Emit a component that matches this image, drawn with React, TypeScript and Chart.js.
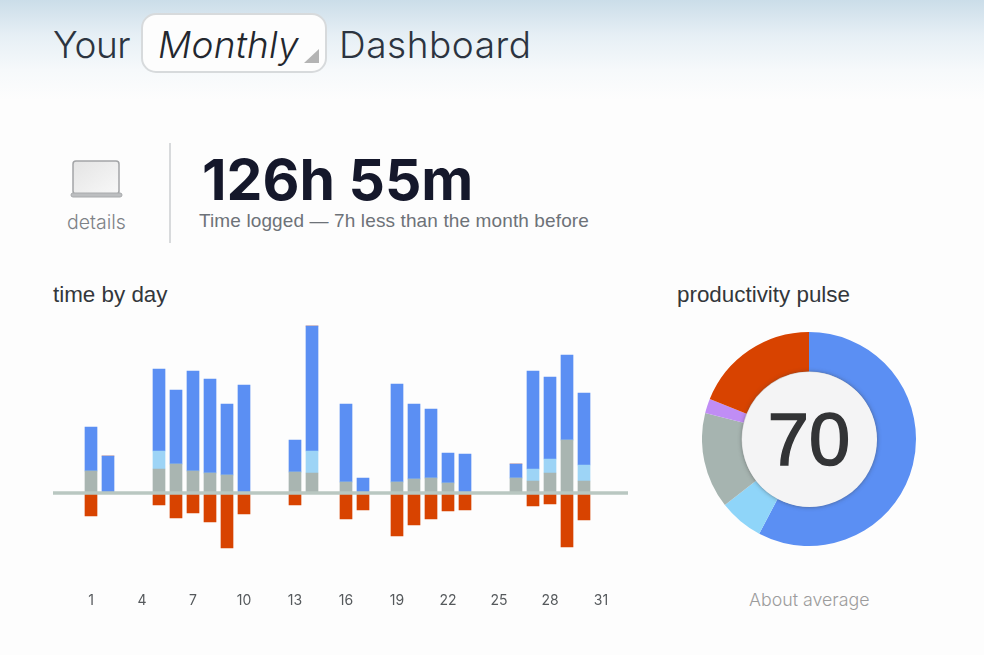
import React, { useEffect, useRef } from "react";
import { Chart, registerables } from "chart.js";

Chart.register(...registerables);

// Minutes logged per day, by productivity band
const days = Array.from({ length: 31 }, (_, i) => String(i + 1));
const neutralMinutes = [88, 0, 0, 0, 96, 116, 88, 80, 72, 0, 0, 0, 84, 80, 0, 44, 0, 0, 44, 56, 60, 40, 0, 0, 0, 60, 48, 80, 212, 48, 0];
const productiveMinutes = [0, 0, 0, 0, 72, 0, 0, 0, 0, 0, 0, 0, 0, 88, 0, 0, 0, 0, 0, 0, 0, 0, 0, 0, 0, 0, 48, 56, 0, 64, 0];
const veryProductiveMinutes = [176, 148, 0, 0, 328, 296, 400, 376, 284, 432, 0, 0, 128, 500, 0, 312, 60, 0, 392, 300, 276, 120, 156, 0, 0, 56, 392, 328, 340, 288, 0];
const distractingMinutes = [-92, 0, 0, 0, -48, -100, -80, -116, -220, -84, 0, 0, -48, 0, 0, -104, -68, 0, -172, -128, -104, -72, -68, 0, 0, 0, -52, -44, -216, -108, 0];

const pulseBands = ["Very productive", "Productive", "Neutral", "Distracting", "Very distracting"];
const pulseShares = [57.7, 6.7, 14.5, 2.2, 18.9];

const BLUE = "#5b8ff3";
const SKY = "#9dd4f6";
const GREY = "#a9b5b1";
const PURPLE = "#c08df5";
const RED = "#d84300";

const baselinePlugin = {
  id: "baseline",
  afterDatasetsDraw(chart: any) {
    const { ctx, scales } = chart;
    const y = scales.y.getPixelForValue(0);
    ctx.save();
    ctx.strokeStyle = "#b9c7c1";
    ctx.lineWidth = 3.5;
    ctx.beginPath();
    ctx.moveTo(0, y);
    ctx.lineTo(chart.width, y);
    ctx.stroke();
    ctx.restore();
  },
};

const abs = (left: number, top: number, extra: React.CSSProperties = {}): React.CSSProperties => ({
  position: "absolute",
  left,
  top,
  whiteSpace: "nowrap",
  ...extra,
});

export default function App() {
  const barRef = useRef<HTMLCanvasElement>(null);
  const pieRef = useRef<HTMLCanvasElement>(null);

  useEffect(() => {
    const bar = new Chart(barRef.current!, {
      type: "bar",
      data: {
        labels: days,
        datasets: [
          { label: "Neutral", data: neutralMinutes, backgroundColor: GREY },
          { label: "Productive", data: productiveMinutes, backgroundColor: SKY },
          { label: "Very productive", data: veryProductiveMinutes, backgroundColor: BLUE },
          { label: "Distracting", data: distractingMinutes, backgroundColor: RED },
        ],
      },
      options: {
        animation: false,
        responsive: false,
        events: [],
        layout: { padding: { left: 29.5, right: 18.5, top: 0, bottom: 0 } },
        plugins: { legend: { display: false }, tooltip: { enabled: false } },
        datasets: { bar: { barThickness: 12 } },
        scales: {
          x: {
            stacked: true,
            grid: { display: false },
            border: { display: false },
            afterFit: (scale: any) => {
              scale.height = 42;
            },
            ticks: {
              autoSkip: false,
              maxRotation: 0,
              padding: 16,
              color: "#55595c",
              font: { family: "Inter", size: 14 },
              callback: (_v: any, i: number) => (i % 3 === 0 ? days[i] : ""),
            },
          },
          y: { stacked: true, display: false, min: -300, max: 700 },
        },
      } as any,
      plugins: [baselinePlugin],
    });

    const pie = new Chart(pieRef.current!, {
      type: "doughnut",
      data: {
        labels: pulseBands,
        datasets: [
          {
            data: pulseShares,
            backgroundColor: [BLUE, "#8fd5f9", "#a6b4b0", PURPLE, RED],
            borderWidth: 0,
          },
        ],
      },
      options: {
        animation: false,
        responsive: false,
        events: [],
        cutout: "63%",
        plugins: { legend: { display: false }, tooltip: { enabled: false } },
      } as any,
    });

    return () => {
      bar.destroy();
      pie.destroy();
    };
  }, []);

  const heading: React.CSSProperties = { fontFamily: "Inter", fontSize: 37, fontWeight: 300, color: "#2c3440", lineHeight: "46px" };

  return (
    <div
      style={{
        position: "absolute",
        left: 0,
        top: 0,
        width: 984,
        height: 655,
        overflow: "hidden",
        background: "linear-gradient(to bottom, #cbdde9 0px, #e6eff5 35px, #f6f9fb 70px, #fdfdfd 100px, #fdfdfd 655px)",
        fontFamily: "Inter, sans-serif",
      }}
    >
      <div style={abs(53, 22, { ...heading, letterSpacing: -0.4 })}>Your</div>
      <div
        style={abs(141, 13, {
          width: 186,
          height: 60,
          boxSizing: "border-box",
          background: "#fdfdfd",
          border: "2px solid #d7dadc",
          borderRadius: 15,
        })}
      />
      <div style={abs(158, 22, { ...heading, fontStyle: "italic", color: "#23272e", letterSpacing: 0.2 })}>Monthly</div>
      <div
        style={abs(304, 49, {
          width: 15,
          height: 14,
          background: "#b4b4b4",
          clipPath: "polygon(100% 0, 100% 100%, 0 100%)",
        })}
      />
      <div style={abs(339, 22, { ...heading, letterSpacing: 0.55 })}>Dashboard</div>

      <svg style={abs(70, 159)} width="53" height="40" viewBox="0 0 53 40">
        <defs>
          <linearGradient id="screen" x1="0" y1="0" x2="1" y2="1">
            <stop offset="0" stopColor="#e4e4e4" />
            <stop offset="1" stopColor="#f8f8f8" />
          </linearGradient>
        </defs>
        <rect x="3" y="2" width="46" height="33" rx="3" fill="url(#screen)" stroke="#a2a4a6" strokeWidth="1.5" />
        <rect x="1" y="34" width="51" height="4" rx="2" fill="#bcbec0" stroke="#a8aaac" />
      </svg>
      <div style={abs(67, 211, { fontSize: 19.5, fontWeight: 300, color: "#7d8287", lineHeight: "22px" })}>details</div>
      <div style={abs(169, 143, { width: 1.5, height: 100, background: "#d8dadc" })} />
      <div style={abs(202, 146, { fontSize: 57, fontWeight: 700, color: "#15182b", lineHeight: "68px" })}>126h 55m</div>
      <div style={abs(199, 210, { fontSize: 19, letterSpacing: 0.12, fontFamily: "'Liberation Sans'", color: "#6d7278", lineHeight: "22px" })}>
        Time logged — 7h less than the month before
      </div>

      <div style={abs(53, 284, { fontSize: 22.4, fontFamily: "'Liberation Sans'", color: "#33373b", lineHeight: "22px" })}>time by day</div>
      <div style={abs(677, 284, { fontSize: 22.4, fontFamily: "'Liberation Sans'", color: "#33373b", lineHeight: "22px" })}>productivity pulse</div>

      <canvas ref={barRef} width={575} height={292} style={abs(53, 318, { width: 575, height: 292, display: "block" })} />
      <canvas ref={pieRef} width={214} height={214} style={abs(702, 332, { width: 214, height: 214, display: "block" })} />

      <div
        style={abs(741.5, 371.5, {
          width: 135,
          height: 135,
          borderRadius: "50%",
          background: "#f4f4f5",
          boxShadow: "0 0 4px rgba(60,60,60,0.55)",
          display: "flex",
          alignItems: "center",
          justifyContent: "center",
          fontFamily: "'Liberation Sans'",
          fontSize: 74,
          color: "#333436",
          WebkitTextStroke: "1.6px #333436",
        })}
      >
        70
      </div>
      <div style={abs(749, 589, { fontSize: 17.8, fontWeight: 300, color: "#9c9c9c", lineHeight: "22px" })}>About average</div>
    </div>
  );
}
